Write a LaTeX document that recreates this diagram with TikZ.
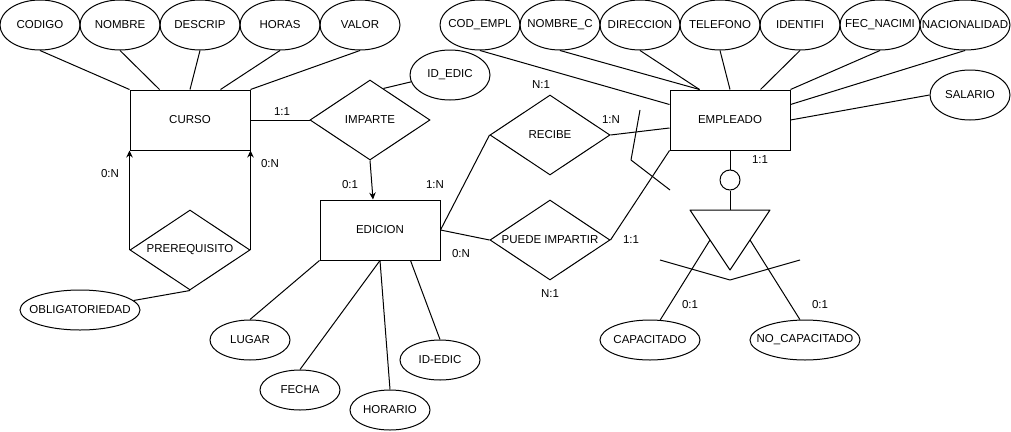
\documentclass[tikz,border=0pt]{standalone}
\usepackage{fontspec}
\setmainfont{Liberation Sans}
\usetikzlibrary{shapes.geometric,arrows.meta}
\begin{document}
\begin{tikzpicture}[x=1pt,y=-1pt,
  every node/.style={font=\fontsize{11.5}{13}\selectfont},
  ent/.style={draw, line width=1pt, rectangle, minimum width=120pt, minimum height=60pt, inner sep=0pt},
  attr/.style={draw, line width=1pt, ellipse, inner sep=0pt},
  rel/.style={draw, line width=1pt, diamond, minimum width=120pt, minimum height=80pt, inner sep=0pt},
  conn/.style={draw, line width=1pt, line join=round},
  arr/.style={conn, -{Stealth[length=7pt,width=6.5pt]}},
  card/.style={inner sep=1pt}
]
\fill[white] (0,0) rectangle (1011,431);
\useasboundingbox (0,0) rectangle (1011,431);

% entities
\node[ent] (curso) at (190,120) {CURSO};
\node[ent] (edicion) at (380,230) {EDICION};
\node[ent] (emp) at (730,120) {EMPLEADO};

% relationships
\node[rel, label={center:IMPARTE}] (imparte) at (370,120) {};
\node[rel, label={center:PREREQUISITO}] (prereq) at (190,250) {};
\node[rel, label={center:RECIBE}] (recibe) at (550,135) {};
\node[rel, label={center:PUEDE IMPARTIR}] (puede) at (550,240) {};

% CURSO attributes
\node[attr, minimum width=80pt, minimum height=50pt, label={center:CODIGO}] (codigo) at (40,25) {};
\node[attr, minimum width=80pt, minimum height=50pt, label={center:NOMBRE}] (nombre) at (120,25) {};
\node[attr, minimum width=80pt, minimum height=50pt, label={center:DESCRIP}] (descrip) at (200,25) {};
\node[attr, minimum width=80pt, minimum height=50pt, label={center:HORAS}] (horas) at (280,25) {};
\node[attr, minimum width=80pt, minimum height=50pt, label={center:VALOR}] (valor) at (360,25) {};

% EMPLEADO attributes
\node[attr, minimum width=80pt, minimum height=50pt, label={center:COD\_EMPL}] (codempl) at (480,25) {};
\node[attr, minimum width=80pt, minimum height=50pt, label={center:NOMBRE\_C}] (nombrec) at (560,25) {};
\node[attr, minimum width=80pt, minimum height=50pt, label={center:DIRECCION}] (direccion) at (640,25) {};
\node[attr, minimum width=80pt, minimum height=50pt, label={center:TELEFONO}] (telefono) at (720,25) {};
\node[attr, minimum width=80pt, minimum height=50pt, label={center:IDENTIFI}] (identifi) at (800,25) {};
\node[attr, minimum width=80pt, minimum height=50pt, label={center:FEC\_NACIMI}] (fecnac) at (880,25) {};
\node[attr, minimum width=90pt, minimum height=50pt, label={center:NACIONALIDAD}] (nacional) at (965,25) {};
\node[attr, minimum width=80pt, minimum height=50pt, label={center:SALARIO}] (salario) at (970,95) {};

% other attributes
\node[attr, minimum width=80pt, minimum height=50pt, label={center:ID\_EDIC}] (idedic) at (450,75) {};
\node[attr, minimum width=120pt, minimum height=40pt, label={center:OBLIGATORIEDAD}] (oblig) at (80,310) {};
\node[attr, minimum width=80pt, minimum height=40pt, label={center:LUGAR}] (lugar) at (250,340) {};
\node[attr, minimum width=80pt, minimum height=40pt, label={center:FECHA}] (fecha) at (300,390) {};
\node[attr, minimum width=80pt, minimum height=40pt, label={center:HORARIO}] (horario) at (390,410) {};
\node[attr, minimum width=80pt, minimum height=40pt, label={center:ID-EDIC}] (idedicb) at (440,360) {};
\node[attr, minimum width=100pt, minimum height=40pt, label={center:CAPACITADO}] (capac) at (650,340) {};
\node[attr, minimum width=110pt, minimum height=40pt, label={center:NO\_CAPACITADO}] (nocap) at (805,340) {};

% specialization
\node[draw, line width=1pt, circle, minimum size=20pt, inner sep=0pt] (circ) at (730,180) {};
\coordinate (ta) at (690,210);
\coordinate (tb) at (770,210);
\coordinate (tc) at (730,270);
\coordinate (ttop) at (730,210);
\coordinate (tl) at (710,240);
\coordinate (tr) at (750,240);
\draw[conn] (ta) -- (tb) -- (tc) -- cycle;
\coordinate (v1) at (660,260);
\coordinate (v2) at (730,280);
\coordinate (v3) at (800,260);
\draw[conn] (v1) -- (v2) -- (v3);
\coordinate (k1) at (640,110);
\coordinate (k2) at (631,160);
\coordinate (k3) at (670,190);
\draw[conn] (k1) -- (k2) -- (k3);

% CURSO attribute connectors
\draw[conn] (codigo.south) -- (curso.north west);
\draw[conn] (nombre.south) -- ([xshift=30pt]curso.north west);
\draw[conn] (descrip.south) -- (curso.north);
\draw[conn] (horas.south) -- ([xshift=-30pt]curso.north east);
\draw[conn] (valor.south) -- (curso.north east);

% EMPLEADO attribute connectors
\draw[conn] (codempl.south) -- ([yshift=-15pt]emp.north west);
\draw[conn] (nombrec.south) -- ([xshift=30pt]emp.north west);
\draw[conn] (direccion.south) -- ([xshift=30pt]emp.north west);
\draw[conn] (telefono.south) -- (emp.north);
\draw[conn] (identifi.south) -- ([xshift=-30pt]emp.north east);
\draw[conn] (fecnac.south) -- (emp.north east);
\draw[conn] (nacional.south) -- ([yshift=-15pt]emp.north east);
\draw[conn] (salario.west) -- (emp.east);

% relationship connectors
\draw[conn] (curso.east) -- (imparte.west);
\draw[conn] (idedic.190) -- (imparte.67);
\draw[arr] (imparte.south) -- ([xshift=-7pt]edicion.north);
\draw[arr] (prereq.west) -- (curso.south west);
\draw[arr] (prereq.east) -- (curso.south east);
\draw[conn] (oblig) -- (prereq.south);
\draw[conn] (edicion.east) -- (recibe.west);
\draw[conn] (edicion.east) -- (puede.west);
\draw[conn] (recibe.east) -- ([yshift=-8pt]emp.west);
\draw[conn] (puede.east) -- (emp.south west);

% EDICION attribute connectors
\draw[conn] (lugar.north) -- (edicion.south west);
\draw[conn] (fecha.north) -- (edicion.south);
\draw[conn] (horario.north) -- (edicion.south);
\draw[conn] (idedicb.north) -- ([xshift=-30pt]edicion.south east);

% specialization connectors
\draw[conn] (emp.south) -- (circ.north);
\draw[conn] (circ.south) -- (ttop);
\draw[conn] (tl) -- (capac.63);
\draw[conn] (tr) -- (nocap.104);

% cardinalities
\node[card] (c1) at (282,112) {1:1};
\node[card] (c2) at (110,174) {0:N};
\node[card] (c3) at (270,164) {0:N};
\node[card] (c4) at (350,185) {0:1};
\node[card] (c5) at (435,185) {1:N};
\node[card] (c6) at (541,85) {N:1};
\node[card] (c7) at (611,120) {1:N};
\node[card] (c8) at (461,254) {0:N};
\node[card] (c9) at (631,240) {1:1};
\node[card] (c10) at (550,294) {N:1};
\node[card] (c11) at (760,160) {1:1};
\node[card] (c12) at (690,305) {0:1};
\node[card] (c13) at (820,305) {0:1};
\end{tikzpicture}
\end{document}
